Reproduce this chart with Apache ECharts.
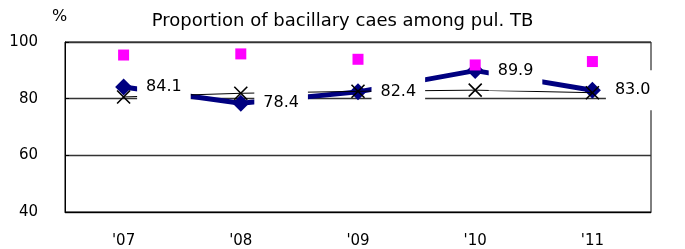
<!DOCTYPE html>
<html><head><meta charset="utf-8">
<script src="https://cdn.jsdelivr.net/npm/echarts@6/dist/echarts.min.js"></script>
<style>html,body{margin:0;padding:0;background:#fff}#c{width:685px;height:249px}</style>
</head><body><div id="c"></div>
<script>
const categories = ["'07", "'08", "'09", "'10", "'11"];
const bacillary = [84.1, 78.4, 82.4, 89.9, 83.0];
const crossSeries = [80.6, 81.9, 82.6, 83.0, 82.1];
const pinkSeries = [95.4, 95.8, 93.9, 91.9, 93.1];
const yTicks = [40, 60, 80, 100];

const FONT = 'DejaVu Sans';
const chart = echarts.init(document.getElementById('c'), null, {renderer: 'canvas'});
chart.setOption({
  animation: false,
  title: {text: 'Proportion of bacillary caes among pul. TB', left: 'center', top: 7,
    textStyle: {fontFamily: FONT, fontSize: 18, fontWeight: 'normal', color: '#000'}},
  graphic: [{type: 'text', left: 52, top: 9, style: {text: '%', fontFamily: FONT, fontSize: 16, fill: '#000'}}],
  grid: {left: 65, right: 34, top: 42, bottom: 37, show: true, borderColor: '#000', borderWidth: 1, backgroundColor: 'transparent'},
  xAxis: {type: 'category', data: categories, boundaryGap: true,
    axisLine: {lineStyle: {color: '#000', width: 1}},
    axisTick: {inside: true, length: 5, lineStyle: {color: '#000'}},
    axisLabel: {margin: 22, fontFamily: FONT, fontSize: 15, color: '#000'},
    splitLine: {show: false}},
  yAxis: {type: 'value', min: yTicks[0], max: yTicks[yTicks.length - 1], interval: 20,
    axisLine: {show: true, lineStyle: {color: '#000', width: 1}},
    axisTick: {show: true, inside: true, length: 4, lineStyle: {color: '#000'}},
    axisLabel: {margin: 27, fontFamily: FONT, fontSize: 15, color: '#000'},
    splitLine: {show: true, lineStyle: {color: '#333', width: 1.3}}},
  series: [
    {type: 'line', data: bacillary, z: 3, symbol: 'diamond', symbolSize: 17,
      lineStyle: {color: '#000080', width: 5}, itemStyle: {color: '#000080'}},
    {type: 'line', data: crossSeries, z: 4, symbol: 'path://M0,0L10,10M10,0L0,10', symbolSize: 13,
      lineStyle: {color: '#000', width: 1}, itemStyle: {color: 'none', borderColor: '#000', borderWidth: 1.6}},
    {type: 'line', data: pinkSeries, z: 5, symbol: 'rect', symbolSize: 11,
      lineStyle: {width: 0, opacity: 0}, itemStyle: {color: '#FF00FF'}},
    {type: 'line', data: bacillary, z: 10, symbol: 'diamond', symbolSize: 17,
      lineStyle: {width: 0, opacity: 0}, itemStyle: {color: 'rgba(0,0,0,0)', borderWidth: 0},
      label: {show: true, position: 'right', distance: 5, fontFamily: FONT, fontSize: 16, color: '#000',
        backgroundColor: '#fff', padding: [12, 9, 12, 9],
        formatter: p => p.value.toFixed(1)}}
  ]
});
</script></body></html>
